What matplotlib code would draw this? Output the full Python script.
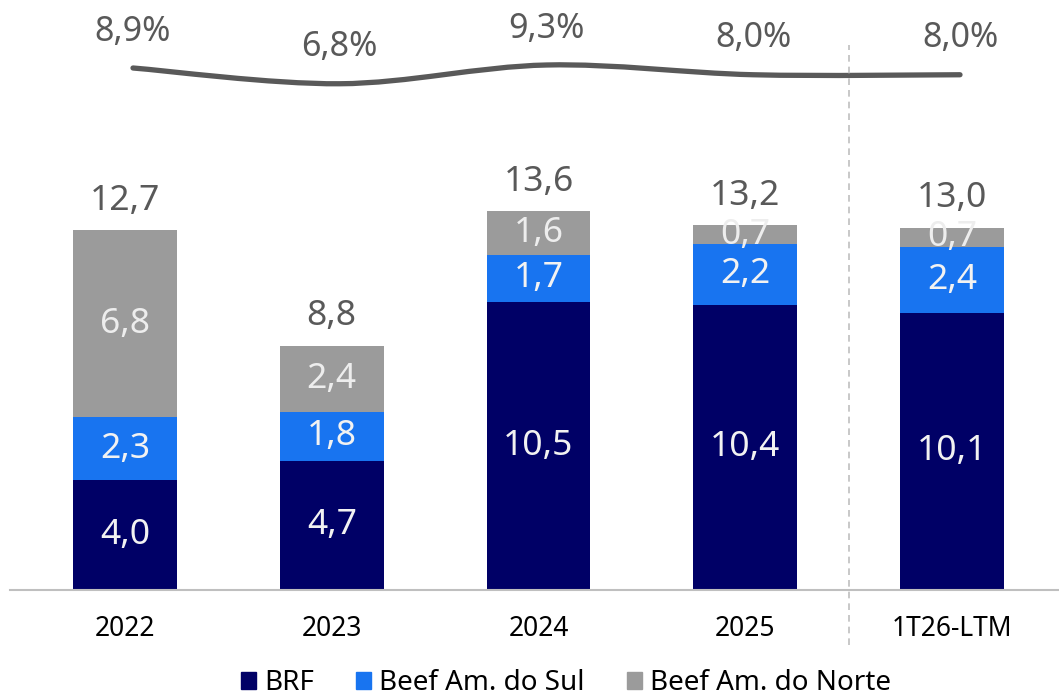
import matplotlib
matplotlib.use("Agg")
import matplotlib.pyplot as plt
from matplotlib.path import Path
from matplotlib.patches import PathPatch, Patch
import numpy as np

categories = ["2022", "2023", "2024", "2025", "1T26-LTM"]
brf = [4.0, 4.7, 10.5, 10.4, 10.1]
beef_sul = [2.3, 1.8, 1.7, 2.2, 2.4]
beef_norte = [6.8, 2.4, 1.6, 0.7, 0.7]
totals = [12.7, 8.8, 13.6, 13.2, 13.0]
margin = [8.9, 6.8, 9.3, 8.0, 8.0]
series_names = ["BRF", "Beef Am. do Sul", "Beef Am. do Norte"]

C_BRF = "#000066"
C_SUL = "#1874F0"
C_NORTE = "#9B9B9B"
C_LINE = "#595959"
C_TXT = "#595959"
FONT = ["Noto Sans", "DejaVu Sans"]

def fmt(v, dec=1):
    return f"{v:.{dec}f}".replace(".", ",")

W, H = 1059, 699
fig = plt.figure(figsize=(W / 100, H / 100), dpi=100)
ax_l, ax_r = 10, 1059
ax_b, ax_t = 590, 0
rect = [ax_l / W, (H - ax_b) / H, (ax_r - ax_l) / W, (ax_b - ax_t) / H]
ax = fig.add_axes(rect)

x = np.arange(len(categories))
ppu_x = 206.75
xlim = (-(125 - ax_l) / ppu_x, 4 + (ax_r - 952) / ppu_x)
ax.set_xlim(xlim)
ppu_y = 27.45
ax.set_ylim(0, (ax_b - ax_t) / ppu_y)

bw = 0.503
ax.bar(x, brf, bw, color=C_BRF, zorder=2)
ax.bar(x, beef_sul, bw, bottom=brf, color=C_SUL, zorder=2)
bottom3 = [a + b for a, b in zip(brf, beef_sul)]
ax.bar(x, beef_norte, bw, bottom=bottom3, color=C_NORTE, zorder=2)

lab_fs = 25.5
for i in range(len(categories)):
    ax.text(x[i], brf[i] / 2, fmt(brf[i]), ha="center", va="center", color="#F2F2F2",
            fontsize=lab_fs, family=FONT, zorder=3)
    ax.text(x[i], brf[i] + beef_sul[i] / 2, fmt(beef_sul[i]), ha="center", va="center",
            color="#F2F2F2", fontsize=lab_fs, family=FONT, zorder=3)
    ax.text(x[i], bottom3[i] + beef_norte[i] / 2, fmt(beef_norte[i]), ha="center", va="center",
            color="#EDEDED", fontsize=lab_fs, family=FONT, zorder=3)
    ax.annotate(fmt(totals[i]), (x[i], bottom3[i] + beef_norte[i]), xytext=(0, 24),
                textcoords="offset points", ha="center", va="center_baseline", color=C_TXT,
                fontsize=lab_fs, family=FONT)

for s in ["top", "right", "left"]:
    ax.spines[s].set_visible(False)
ax.spines["bottom"].set_color("#BFBFBF")
ax.spines["bottom"].set_linewidth(1.5)
ax.set_yticks([])
ax.set_xticks(x)
ax.set_xticklabels(categories, family=FONT, fontsize=19, color="black")
ax.tick_params(axis="x", length=0, pad=18)

# margin line on an independent overlay axes (slightly offset category positions)
ax2 = fig.add_axes(rect, frameon=False, label="margin")
shift = 8 / ppu_x
ax2.set_xlim(xlim[0] - shift, xlim[1] - shift)
ppu_m = 7.5
y_ref_pix, v_ref = 68, 8.9
ax2.set_ylim(v_ref - (ax_b - y_ref_pix) / ppu_m, v_ref + (y_ref_pix - ax_t) / ppu_m)
ax2.axis("off")

# smooth curve (Catmull-Rom -> cubic Bezier) through the data points
px = x.astype(float)
py = np.array(margin, dtype=float)
verts = [(px[0], py[0])]
codes = [Path.MOVETO]
n = len(px)
t = 1 / 6
for i in range(n - 1):
    p0 = (px[max(i - 1, 0)], py[max(i - 1, 0)])
    p1 = (px[i], py[i])
    p2 = (px[i + 1], py[i + 1])
    p3 = (px[min(i + 2, n - 1)], py[min(i + 2, n - 1)])
    c1 = (p1[0] + (p2[0] - p0[0]) * t, p1[1] + (p2[1] - p0[1]) * t)
    c2 = (p2[0] - (p3[0] - p1[0]) * t, p2[1] - (p3[1] - p1[1]) * t)
    verts += [c1, c2, p2]
    codes += [Path.CURVE4] * 3
ax2.add_patch(PathPatch(Path(verts, codes), fill=False, edgecolor=C_LINE, lw=3.8,
                        capstyle="round", zorder=4))
for i in range(n):
    ax2.annotate(fmt(margin[i]) + "%", (px[i], py[i]), xytext=(0, 29),
                 textcoords="offset points", ha="center", va="center_baseline", color=C_TXT,
                 fontsize=24.5, family=FONT)

# separator
sep_x = 3.5
fig_x = ax.transData.transform((sep_x, 0))[0] / W
fig.add_artist(plt.Line2D([fig_x, fig_x], [(H - 645) / H, (H - 45) / H],
                          transform=fig.transFigure, color="#BFBFBF", lw=1.2,
                          linestyle=(0, (4, 3))))

handles = [Patch(color=C_BRF), Patch(color=C_SUL), Patch(color=C_NORTE)]
fig.legend(handles, series_names, loc="center", bbox_to_anchor=(566 / W, (H - 683) / H),
           ncol=3, frameon=False, prop={"family": FONT, "size": 20},
           handlelength=0.55, handleheight=0.55, handletextpad=0.3, columnspacing=1.5,
           borderpad=0)

fig.savefig("out.png", dpi=100)
